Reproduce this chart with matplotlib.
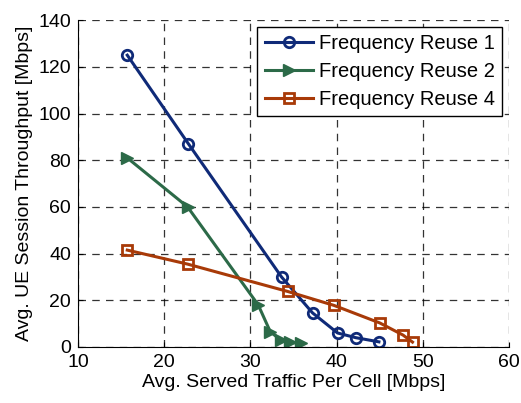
import matplotlib.pyplot as plt

plt.rcParams['font.family'] = ['Liberation Sans', 'DejaVu Sans']

# Frequency Reuse 1
x_r1 = [15.7, 22.8, 33.6, 37.2, 40.1, 42.2, 44.9]
y_r1 = [125, 87, 30, 14.6, 6, 4, 2.2]
# Frequency Reuse 2
x_r2 = [15.7, 22.7, 30.9, 32.3, 33.5, 34.6, 35.9]
y_r2 = [81, 60, 18, 6.5, 3, 2, 1.5]
# Frequency Reuse 4
x_r4 = [15.7, 22.7, 34.3, 39.7, 45.0, 47.7, 48.8]
y_r4 = [41.5, 35.5, 23.8, 17.8, 10.3, 5.1, 2.1]

fig = plt.figure(figsize=(5.21, 4.03), dpi=100)
ax = fig.add_axes([0.15, 0.139, 0.827, 0.811])

ax.plot(x_r1, y_r1, color='#0f2a78', lw=2.2, marker='o', ms=7.5, mfc='none', mew=2, label='Frequency Reuse 1')
ax.plot(x_r2, y_r2, color='#2c6a48', lw=2.2, marker='>', ms=9, label='Frequency Reuse 2')
ax.plot(x_r4, y_r4, color='#a83a08', lw=2.2, marker='s', ms=7, mfc='none', mew=2, label='Frequency Reuse 4')

ax.set_xlim(10, 60)
ax.set_ylim(0, 140)
ax.set_xticks(range(10, 61, 10))
ax.set_yticks(range(0, 141, 20))
ax.grid(True, color='black', linestyle=(0, (6, 5)), lw=0.9, alpha=0.8)
ax.spines['top'].set_visible(False)
ax.spines['right'].set_visible(False)
ax.tick_params(direction='in', labelsize=14, pad=5)
ax.set_xlabel('Avg. Served Traffic Per Cell [Mbps]', fontsize=14, labelpad=2)
ax.set_ylabel('Avg. UE Session Throughput [Mbps]', fontsize=14, labelpad=4)

leg = ax.legend(loc='upper right', fontsize=14.5, fancybox=False, edgecolor='black',
                framealpha=1, handlelength=2.4, borderpad=0.35, labelspacing=0.45,
                handletextpad=0.3, borderaxespad=0.35)
leg.get_frame().set_linewidth(1)

fig.savefig('out.png', dpi=100)
